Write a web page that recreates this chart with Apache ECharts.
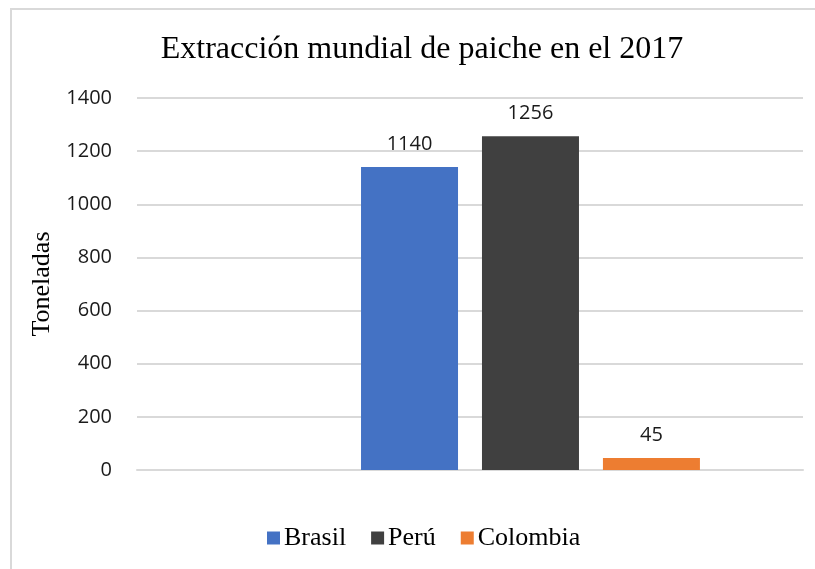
<!DOCTYPE html>
<html>
<head>
<meta charset="utf-8">
<script src="https://cdn.jsdelivr.net/npm/echarts@6/dist/echarts.min.js"></script>
<style>
html,body{margin:0;padding:0;background:#fff;}
#c{width:815px;height:569px;}
</style>
</head>
<body>
<div id="c"></div>
<script>
var categories = ['2017'];
var seriesNames = ['Brasil', 'Perú', 'Colombia'];
var brasil = [1140];
var peru = [1256];
var colombia = [45];
var emptySeries = [null];
var yTicks = [0, 200, 400, 600, 800, 1000, 1200, 1400];

var chart = echarts.init(document.getElementById('c'), null, {renderer: 'canvas'});
var labelStyle = {show: true, position: 'top', distance: 13, color: '#1a1a1a', fontFamily: 'Open Sans', fontSize: 20};
function bar(name, data, color) {
  return {name: name, type: 'bar', data: data, barWidth: 97, barGap: '24.7%',
    itemStyle: {color: color}, label: labelStyle, silent: true};
}
chart.setOption({
  animation: false,
  graphic: [{type: 'polyline', shape: {points: [[11, 700], [11, 9], [1000, 9]]},
    style: {fill: null, stroke: '#d9d9d9', lineWidth: 2}, silent: true}],
  title: {text: 'Extracción mundial de paiche en el 2017', left: 417, top: 29, textAlign: 'center',
    textStyle: {fontFamily: 'Liberation Serif', fontWeight: 'normal', fontSize: 32, color: '#000'}},
  legend: {data: seriesNames, left: 262, top: 520, itemWidth: 13, itemHeight: 13, itemGap: 25,
    icon: 'rect', textStyle: {fontFamily: 'Liberation Serif', fontSize: 26, color: '#000', padding: [0,0,0,-1]}},
  grid: {left: 137, right: 12, top: 98, bottom: 99},
  xAxis: {type: 'category', data: categories, axisLabel: {show: false}, axisTick: {show: false},
    axisLine: {lineStyle: {color: '#d9d9d9', width: 2}}},
  yAxis: {type: 'value', min: yTicks[0], max: yTicks[yTicks.length - 1], interval: 200,
    name: 'Toneladas', nameLocation: 'middle', nameGap: 76,
    nameTextStyle: {fontFamily: 'Liberation Serif', fontSize: 26, color: '#000'},
    axisLine: {show: false}, axisTick: {show: false},
    axisLabel: {margin: 25, fontFamily: 'Open Sans', fontSize: 20, color: '#1a1a1a',
      formatter: function (v) { return String(v); }},
    splitLine: {lineStyle: {color: '#d9d9d9', width: 2}}},
  series: [
    {name: '_empty', type: 'bar', data: emptySeries, barWidth: 97, barGap: '24.7%', silent: true},
    bar(seriesNames[0], brasil, '#4472C4'),
    bar(seriesNames[1], peru, '#404040'),
    bar(seriesNames[2], colombia, '#ED7D31')
  ]
});
</script>
</body>
</html>
